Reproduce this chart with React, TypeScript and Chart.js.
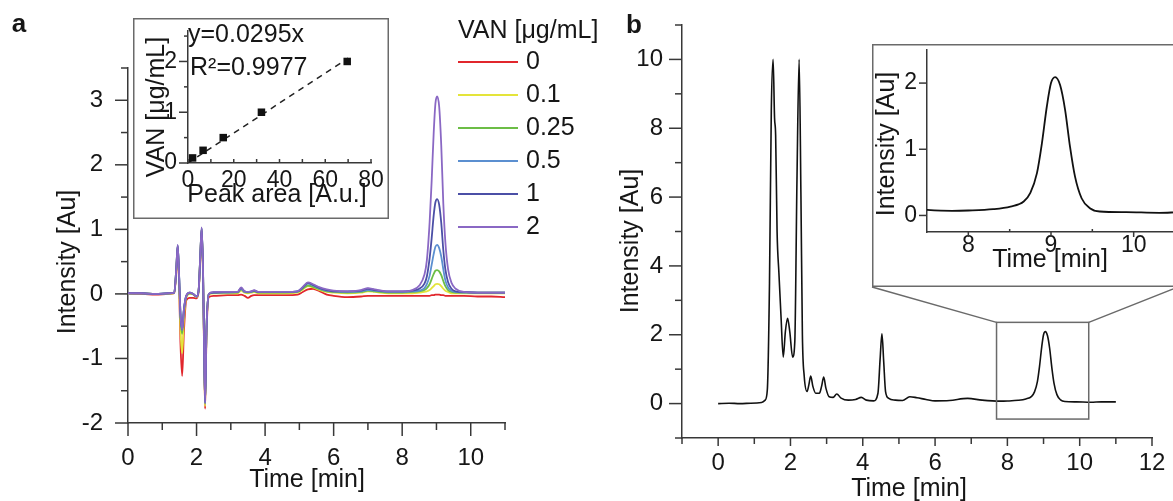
import { useEffect, useRef } from 'react';
import { Chart, registerables } from 'chart.js';

Chart.register(...registerables);

const FONT = '"Liberation Sans", Arial, Helvetica, sans-serif';
const INK = '#161616';
const AXIS = '#383838';
const BOX = '#6a6a6a';

// ---------------- Panel a: chromatograms ----------------
const TIME_A = [0, 0.4, 0.8, 1.2, 1.35, 1.41, 1.45, 1.49, 1.53, 1.58, 1.63, 1.7, 1.8, 1.9, 2.0, 2.06, 2.11, 2.15, 2.19, 2.22, 2.25, 2.29, 2.36, 2.5, 2.9, 3.2, 3.3, 3.4, 3.5, 3.6, 3.68, 3.8, 4.2, 4.6, 4.95, 5.1, 5.25, 5.4, 5.6, 5.8, 6.0, 6.4, 6.8, 7.0, 7.2, 7.6, 8.0, 8.3, 8.5, 8.65, 8.72, 8.8, 8.86, 8.92, 8.97, 9.02, 9.08, 9.14, 9.2, 9.26, 9.34, 9.44, 9.56, 9.8, 10.2, 10.6, 11.0];

const VAN_0 = [0.0, 0.0, -0.01, 0.0, 0.01, 0.35, 0.7, 0.15, -0.75, -1.27, -0.6, -0.1, -0.06, -0.06, -0.07, 0.03, 0.55, 0.98, 0.25, -0.9, -1.78, -0.65, -0.05, -0.03, -0.02, -0.02, -0.01, -0.03, -0.06, -0.03, -0.02, -0.02, -0.02, -0.02, -0.01, 0.03, 0.07, 0.08, 0.04, -0.01, -0.03, -0.05, -0.04, -0.03, -0.03, -0.03, -0.03, -0.03, -0.03, -0.03, -0.03, -0.03, -0.02, -0.02, -0.01, -0.01, -0.01, -0.02, -0.02, -0.03, -0.03, -0.03, -0.03, -0.03, -0.04, -0.04, -0.05];
const VAN_01 = [0.0, 0.01, 0.0, 0.0, 0.01, 0.38, 0.72, 0.2, -0.55, -0.92, -0.4, -0.06, 0.0, -0.01, -0.05, 0.04, 0.58, 1.0, 0.3, -0.85, -1.74, -0.58, -0.01, 0.01, 0.01, 0.01, 0.05, 0.02, 0.01, 0.02, 0.03, 0.01, 0.01, 0.01, 0.02, 0.07, 0.12, 0.1, 0.06, 0.03, 0.02, 0.01, 0.02, 0.04, 0.03, 0.01, 0.01, 0.01, 0.02, 0.03, 0.04, 0.06, 0.09, 0.12, 0.15, 0.155, 0.15, 0.12, 0.08, 0.05, 0.03, 0.01, 0.01, 0.01, 0.01, 0.01, 0.01];
const VAN_025 = [0.01, 0.01, 0.0, 0.01, 0.02, 0.4, 0.74, 0.28, -0.35, -0.62, -0.28, -0.04, 0.01, 0.0, -0.04, 0.05, 0.6, 1.01, 0.33, -0.82, -1.7, -0.55, 0.0, 0.02, 0.02, 0.02, 0.07, 0.03, 0.02, 0.03, 0.04, 0.02, 0.02, 0.02, 0.03, 0.08, 0.13, 0.11, 0.07, 0.04, 0.03, 0.02, 0.03, 0.05, 0.04, 0.02, 0.02, 0.03, 0.04, 0.06, 0.09, 0.15, 0.23, 0.31, 0.36, 0.37, 0.35, 0.29, 0.2, 0.12, 0.06, 0.03, 0.02, 0.02, 0.02, 0.02, 0.02];
const VAN_05 = [0.01, 0.01, 0.0, 0.01, 0.02, 0.4, 0.75, 0.3, -0.3, -0.56, -0.25, -0.03, 0.02, 0.0, -0.04, 0.05, 0.6, 1.02, 0.35, -0.8, -1.7, -0.55, 0.0, 0.02, 0.02, 0.03, 0.08, 0.03, 0.03, 0.03, 0.05, 0.03, 0.03, 0.03, 0.04, 0.1, 0.16, 0.13, 0.08, 0.05, 0.04, 0.03, 0.04, 0.06, 0.05, 0.03, 0.03, 0.04, 0.05, 0.09, 0.15, 0.28, 0.45, 0.62, 0.73, 0.76, 0.71, 0.58, 0.38, 0.21, 0.1, 0.05, 0.03, 0.02, 0.02, 0.02, 0.02];
const VAN_1 = [0.01, 0.01, 0.0, 0.01, 0.02, 0.4, 0.75, 0.3, -0.3, -0.55, -0.25, -0.03, 0.02, 0.0, -0.04, 0.05, 0.6, 1.02, 0.35, -0.8, -1.68, -0.55, 0.0, 0.02, 0.03, 0.03, 0.09, 0.04, 0.03, 0.04, 0.05, 0.03, 0.03, 0.03, 0.04, 0.1, 0.17, 0.14, 0.09, 0.06, 0.04, 0.04, 0.05, 0.08, 0.06, 0.04, 0.04, 0.05, 0.08, 0.16, 0.27, 0.55, 0.86, 1.22, 1.42, 1.47, 1.38, 1.1, 0.68, 0.38, 0.18, 0.08, 0.04, 0.03, 0.02, 0.02, 0.02];
const VAN_2 = [0.01, 0.01, 0.0, 0.01, 0.02, 0.4, 0.76, 0.3, -0.3, -0.56, -0.25, -0.03, 0.02, 0.0, -0.04, 0.05, 0.6, 1.03, 0.35, -0.8, -1.69, -0.55, 0.0, 0.03, 0.03, 0.03, 0.1, 0.04, 0.03, 0.04, 0.06, 0.03, 0.03, 0.03, 0.04, 0.11, 0.18, 0.15, 0.1, 0.07, 0.05, 0.04, 0.06, 0.09, 0.07, 0.04, 0.04, 0.06, 0.13, 0.3, 0.52, 1.1, 1.75, 2.5, 2.95, 3.06, 2.9, 2.3, 1.4, 0.8, 0.38, 0.17, 0.08, 0.03, 0.02, 0.02, 0.02];

const SERIES_A = [VAN_0, VAN_01, VAN_025, VAN_05, VAN_1, VAN_2];
const CONC_LABELS = ['0', '0.1', '0.25', '0.5', '1', '2'];
const CONC_COLORS = ['#e1262c', '#e4e43a', '#6cbd46', '#5b8fd0', '#4b4fa6', '#8a68c4'];
const LEGEND_TITLE = 'VAN [μg/mL]';

const A_X_MAJOR = [0, 2, 4, 6, 8, 10];
const A_X_MINOR = [1, 3, 5, 7, 9, 11];
const A_Y_MAJOR = [-2, -1, 0, 1, 2, 3];
const A_Y_MINOR = [-1.5, -0.5, 0.5, 1.5, 2.5, 3.5];

// ---------------- Panel a inset: calibration ----------------
const PEAK_AREA = [2.0, 6.6, 15.4, 32.1, 69.6];
const VAN_CONC = [0.1, 0.25, 0.5, 1, 2];
const FIT_X = [0, 70];
const FIT_Y = [0, 2.065];
const FIT_EQ = 'y=0.0295x';
const FIT_R2 = 'R²=0.9977';
const IA_X_MAJOR = [0, 20, 40, 60, 80];
const IA_X_MINOR = [10, 30, 50, 70];
const IA_Y_MAJOR = [0, 1, 2];
const IA_Y_MINOR = [0.5, 1.5, 2.5];

// ---------------- Panel b: sample chromatogram ----------------
const TIME_B = [0, 0.3, 0.6, 0.9, 1.2, 1.3, 1.36, 1.42, 1.47, 1.52, 1.56, 1.59, 1.63, 1.68, 1.74, 1.8, 1.86, 1.92, 1.98, 2.06, 2.12, 2.18, 2.24, 2.29, 2.33, 2.38, 2.46, 2.51, 2.56, 2.62, 2.7, 2.8, 2.86, 2.92, 2.98, 3.07, 3.18, 3.28, 3.4, 3.6, 3.8, 3.96, 4.1, 4.3, 4.42, 4.48, 4.53, 4.58, 4.63, 4.72, 4.9, 5.1, 5.3, 5.5, 5.75, 6.0, 6.4, 6.9, 7.3, 7.8, 8.0, 8.3, 8.51, 8.67, 8.75, 8.83, 8.89, 8.95, 9.0, 9.05, 9.11, 9.17, 9.23, 9.29, 9.37, 9.47, 9.59, 9.91, 10.31, 10.6, 11.0];
const INT_B = [0.0, 0.01, 0.0, 0.01, 0.03, 0.1, 0.4, 3.5, 8.5, 10.0, 8.3, 7.8, 5.0, 3.8, 2.5, 1.35, 2.1, 2.48, 2.1, 1.35, 1.8, 6.5, 10.0, 6.0, 2.0, 0.8, 0.35, 0.55, 0.8, 0.5, 0.3, 0.3, 0.5, 0.77, 0.45, 0.2, 0.18, 0.28, 0.16, 0.1, 0.12, 0.18, 0.1, 0.08, 0.3, 1.3, 2.03, 1.2, 0.35, 0.15, 0.1, 0.09, 0.2, 0.17, 0.12, 0.08, 0.09, 0.15, 0.1, 0.07, 0.075, 0.095, 0.135, 0.21, 0.34, 0.64, 1.09, 1.65, 2.0, 2.09, 1.97, 1.6, 1.04, 0.59, 0.26, 0.11, 0.06, 0.05, 0.04, 0.05, 0.05];

const B_X_MAJOR = [0, 2, 4, 6, 8, 10, 12];
const B_X_MINOR = [-1, 1, 3, 5, 7, 9, 11];
const B_Y_MAJOR = [0, 2, 4, 6, 8, 10];
const B_Y_MINOR = [-1, 1, 3, 5, 7, 9, 11];
const ZOOM_X = [7.7, 10.25];
const ZOOM_Y = [-0.45, 2.36];

const IB_X_MAJOR = [8, 9, 10];
const IB_X_MINOR = [8.5, 9.5];
const IB_Y_MAJOR = [0, 1, 2];

// ---------------- layout (canvas placement) ----------------
const POS_A = { left: 0, top: 0, w: 620, h: 501 };
const POS_B = { left: 600, top: 0, w: 573, h: 501 };
const POS_IA = { left: 133, top: 18, w: 256, h: 201 };
const POS_IB = { left: 872, top: 44, w: 306, h: 243 };

type Ax = {
  min: number; max: number; major: number[]; minor: number[];
  majLen: number; minLen: number; majIn?: boolean; minIn?: boolean;
  pad: number; size: number;
};
type Txt = {
  t: string; x: number; y: number; size: number; bold?: boolean;
  align?: CanvasTextAlign; base?: CanvasTextBaseline; rot?: boolean;
};
type Spec = {
  w: number; h: number;
  area: { l: number; t: number; r: number; b: number };
  x: Ax; y: Ax;
  datasets: any[];
  texts: Txt[];
  framed?: boolean;
  extra?: (c: any) => void;
};

function pts(xs: number[], ys: number[]) {
  return xs.map((x, i) => ({ x, y: ys[i] }));
}

function drawTexts(ctx: CanvasRenderingContext2D, texts: Txt[]) {
  texts.forEach((tx) => {
    ctx.save();
    ctx.font = `${tx.bold ? 'bold ' : ''}${tx.size}px ${FONT}`;
    ctx.fillStyle = INK;
    ctx.textAlign = tx.align || 'center';
    ctx.textBaseline = tx.base || 'middle';
    ctx.translate(tx.x, tx.y);
    if (tx.rot) ctx.rotate(-Math.PI / 2);
    ctx.fillText(tx.t, 0, 0);
    ctx.restore();
  });
}

function drawTicks(c: any, a: Ax, isX: boolean) {
  const sc = c.scales[isX ? 'x' : 'y'];
  const ctx: CanvasRenderingContext2D = c.ctx;
  const ca = c.chartArea;
  ctx.save();
  ctx.strokeStyle = AXIS;
  ctx.lineWidth = 1.5;
  const run = (vals: number[], len: number, inward?: boolean) => {
    vals.forEach((v) => {
      const p = sc.getPixelForValue(v);
      ctx.beginPath();
      if (isX) {
        ctx.moveTo(p, ca.bottom);
        ctx.lineTo(p, inward ? ca.bottom - len : ca.bottom + len);
      } else {
        ctx.moveTo(ca.left, p);
        ctx.lineTo(inward ? ca.left + len : ca.left - len, p);
      }
      ctx.stroke();
    });
  };
  run(a.major, a.majLen, a.majIn);
  run(a.minor, a.minLen, a.minIn);
  ctx.restore();
}

function build(canvas: HTMLCanvasElement, s: Spec) {
  const axis = (a: Ax, isX: boolean) => ({
    type: 'linear',
    position: isX ? 'bottom' : 'left',
    min: a.min,
    max: a.max,
    afterBuildTicks: (sc: any) => {
      sc.ticks = a.major.map((value) => ({ value }));
    },
    afterFit: (sc: any) => {
      if (isX) sc.height = s.h - s.area.b;
      else sc.width = s.area.l;
      sc.paddingLeft = 0;
      sc.paddingRight = 0;
      sc.paddingTop = 0;
      sc.paddingBottom = 0;
    },
    grid: { display: false, drawTicks: false },
    border: { display: true, color: AXIS, width: 1.5 },
    ticks: {
      autoSkip: false,
      maxRotation: 0,
      minRotation: 0,
      padding: a.pad,
      color: INK,
      font: { family: FONT, size: a.size },
      callback: (v: any) => String(v),
    },
  });

  return new Chart(canvas, {
    type: 'line',
    data: { datasets: s.datasets },
    options: {
      responsive: false,
      maintainAspectRatio: false,
      animation: false,
      devicePixelRatio: 1,
      events: [],
      layout: {
        autoPadding: false,
        padding: { left: 0, top: s.area.t, right: s.w - s.area.r, bottom: 0 },
      },
      plugins: { legend: { display: false }, tooltip: { enabled: false } },
      elements: { point: { radius: 0 } },
      scales: { x: axis(s.x, true), y: axis(s.y, false) } as any,
    },
    plugins: [
      {
        id: 'deco',
        beforeDraw(c: any) {
          if (!s.framed) return;
          const ctx = c.ctx;
          ctx.save();
          ctx.fillStyle = '#ffffff';
          ctx.fillRect(0, 0, s.w, s.h);
          ctx.restore();
        },
        afterDraw(c: any) {
          const ctx = c.ctx;
          drawTicks(c, s.x, true);
          drawTicks(c, s.y, false);
          if (s.extra) s.extra(c);
          drawTexts(ctx, s.texts);
          if (s.framed) {
            ctx.save();
            ctx.strokeStyle = BOX;
            ctx.lineWidth = 1.5;
            ctx.strokeRect(0.75, 0.75, s.w - 1.5, s.h - 1.5);
            ctx.restore();
          }
        },
      } as any,
    ],
  } as any);
}

export default function App() {
  const refA = useRef<HTMLCanvasElement>(null);
  const refB = useRef<HTMLCanvasElement>(null);
  const refIA = useRef<HTMLCanvasElement>(null);
  const refIB = useRef<HTMLCanvasElement>(null);

  useEffect(() => {
    const charts: Chart[] = [];

    // Panel a
    charts.push(
      build(refA.current!, {
        w: POS_A.w, h: POS_A.h,
        area: { l: 128, t: 68, r: 505, b: 423 },
        x: { min: 0, max: 11, major: A_X_MAJOR, minor: A_X_MINOR, majLen: 13, minLen: 7, pad: 21, size: 24 },
        y: { min: -2, max: 3.5, major: A_Y_MAJOR, minor: A_Y_MINOR, majLen: 13, minLen: 7, pad: 25, size: 24 },
        datasets: SERIES_A.map((ys, i) => ({
          label: CONC_LABELS[i],
          data: pts(TIME_A, ys),
          borderColor: CONC_COLORS[i],
          borderWidth: 1.8,
          pointRadius: 0,
          cubicInterpolationMode: 'monotone',
          order: SERIES_A.length - i,
        })),
        texts: [
          { t: 'a', x: 19, y: 32, size: 26, bold: true, base: 'alphabetic' },
          { t: 'Intensity [Au]', x: 68, y: 262, size: 25, rot: true },
          { t: 'Time [min]', x: 307, y: 480, size: 25 },
        ],
        extra: (c: any) => {
          const ctx: CanvasRenderingContext2D = c.ctx;
          ctx.save();
          ctx.font = `25px ${FONT}`;
          ctx.fillStyle = INK;
          ctx.textAlign = 'left';
          ctx.textBaseline = 'middle';
          ctx.fillText(LEGEND_TITLE, 458, 31);
          CONC_LABELS.forEach((lab, i) => {
            const y = 62 + i * 33;
            ctx.strokeStyle = CONC_COLORS[i];
            ctx.lineWidth = 1.8;
            ctx.beginPath();
            ctx.moveTo(458, y);
            ctx.lineTo(518, y);
            ctx.stroke();
            ctx.fillText(lab, 526, y);
          });
          ctx.restore();
        },
      })
    );

    // Panel b
    charts.push(
      build(refB.current!, {
        w: POS_B.w, h: POS_B.h,
        area: { l: 82, t: 25, r: 552, b: 438 },
        x: { min: -1, max: 12, major: B_X_MAJOR, minor: B_X_MINOR, majLen: 8, minLen: 6, pad: 11, size: 24 },
        y: { min: -1, max: 11, major: B_Y_MAJOR, minor: B_Y_MINOR, majLen: 13, minLen: 7, pad: 19, size: 24 },
        datasets: [
          {
            label: 'sample',
            data: pts(TIME_B, INT_B),
            borderColor: '#111111',
            borderWidth: 1.6,
            pointRadius: 0,
            cubicInterpolationMode: 'monotone',
          },
        ],
        texts: [
          { t: 'b', x: 34, y: 33, size: 26, bold: true, base: 'alphabetic' },
          { t: 'Intensity [Au]', x: 31, y: 241, size: 25, rot: true },
          { t: 'Time [min]', x: 309, y: 489, size: 25 },
        ],
        extra: (c: any) => {
          const ctx: CanvasRenderingContext2D = c.ctx;
          const sx = c.scales.x;
          const sy = c.scales.y;
          const x1 = sx.getPixelForValue(ZOOM_X[0]);
          const x2 = sx.getPixelForValue(ZOOM_X[1]);
          const yT = sy.getPixelForValue(ZOOM_Y[1]);
          const yB = sy.getPixelForValue(ZOOM_Y[0]);
          const insetL = POS_IB.left - POS_B.left;
          const insetR = POS_IB.left + POS_IB.w - POS_B.left;
          const insetBot = POS_IB.top + POS_IB.h - POS_B.top;
          ctx.save();
          ctx.strokeStyle = BOX;
          ctx.lineWidth = 1.5;
          ctx.strokeRect(x1, yT, x2 - x1, yB - yT);
          ctx.beginPath();
          ctx.moveTo(x1, yT);
          ctx.lineTo(insetL, insetBot);
          ctx.moveTo(x2, yT);
          ctx.lineTo(insetR, insetBot);
          ctx.stroke();
          ctx.restore();
        },
      })
    );

    // Inset a: calibration
    charts.push(
      build(refIA.current!, {
        w: POS_IA.w, h: POS_IA.h,
        area: { l: 55, t: 13, r: 238, b: 145 },
        x: { min: 0, max: 80, major: IA_X_MAJOR, minor: IA_X_MINOR, majLen: 4, minLen: 4, majIn: true, minIn: true, pad: 4, size: 23 },
        y: { min: 0, max: 2.6, major: IA_Y_MAJOR, minor: IA_Y_MINOR, majLen: 9, minLen: 4, pad: 11, size: 23 },
        framed: true,
        datasets: [
          {
            label: 'calibration',
            data: pts(PEAK_AREA, VAN_CONC),
            showLine: false,
            pointStyle: 'rect',
            pointRadius: 5.3,
            backgroundColor: '#111111',
            borderColor: '#111111',
            borderWidth: 0,
            clip: false,
          },
          {
            label: 'fit',
            data: pts(FIT_X, FIT_Y),
            borderColor: '#222222',
            borderWidth: 1.5,
            borderDash: [6, 5],
            pointRadius: 0,
          },
        ],
        texts: [
          { t: 'VAN [μg/mL]', x: 24, y: 89, size: 25, rot: true },
          { t: 'Peak area [A.u.]', x: 144, y: 177, size: 25 },
          { t: FIT_EQ, x: 55, y: 17, size: 25, align: 'left' },
          { t: FIT_R2, x: 57, y: 50, size: 25, align: 'left' },
        ],
      })
    );

    // Inset b: zoom of the 9 min peak
    charts.push(
      build(refIB.current!, {
        w: POS_IB.w, h: POS_IB.h,
        area: { l: 55, t: 6, r: 303, b: 188 },
        x: { min: 7.5, max: 10.5, major: IB_X_MAJOR, minor: IB_X_MINOR, majLen: 5, minLen: 3, minIn: true, pad: 0, size: 23 },
        y: { min: -0.25, max: 2.5, major: IB_Y_MAJOR, minor: [], majLen: 8, minLen: 0, pad: 10, size: 23 },
        framed: true,
        datasets: [
          {
            label: 'zoom',
            data: pts(TIME_B, INT_B),
            borderColor: '#111111',
            borderWidth: 1.8,
            pointRadius: 0,
            cubicInterpolationMode: 'monotone',
          },
        ],
        texts: [
          { t: 'Intensity [Au]', x: 15, y: 100, size: 25, rot: true },
          { t: 'Time [min]', x: 178, y: 216, size: 25 },
        ],
      })
    );

    return () => charts.forEach((c) => c.destroy());
  }, []);

  const place = (p: { left: number; top: number }) => ({
    position: 'absolute' as const,
    left: p.left,
    top: p.top,
  });

  return (
    <div
      style={{
        position: 'absolute',
        left: 0,
        top: 0,
        width: 1173,
        height: 501,
        overflow: 'hidden',
        background: '#ffffff',
      }}
    >
      <canvas ref={refA} width={POS_A.w} height={POS_A.h} style={place(POS_A)} />
      <canvas ref={refB} width={POS_B.w} height={POS_B.h} style={place(POS_B)} />
      <canvas ref={refIA} width={POS_IA.w} height={POS_IA.h} style={place(POS_IA)} />
      <canvas ref={refIB} width={POS_IB.w} height={POS_IB.h} style={place(POS_IB)} />
    </div>
  );
}
